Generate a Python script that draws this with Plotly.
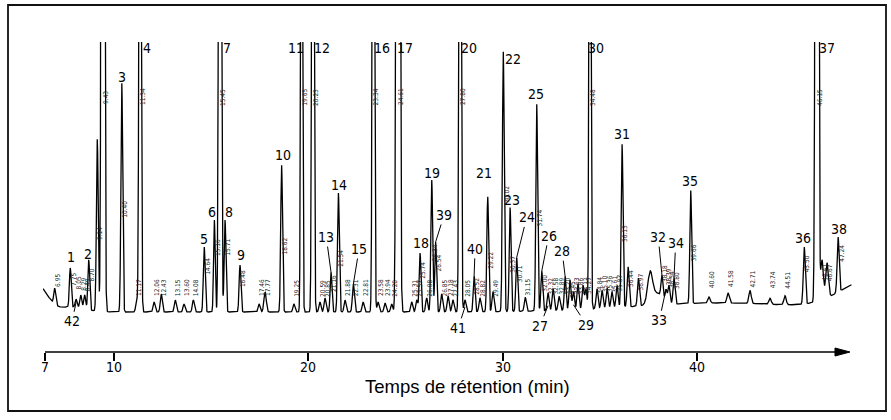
import numpy as np
import plotly.graph_objects as go

# ---------------- data ----------------
# individual peaks: retention time (min), height (signal units), width sigma (min)
peak_times = [6.95, 7.75, 8.05, 8.29, 8.49, 8.70, 9.14, 9.43, 10.40, 11.17,
              11.34, 12.06, 12.43, 13.15, 13.60, 14.08, 14.64, 15.16, 15.45, 15.71,
              16.48, 17.46, 17.77, 18.62, 19.25, 19.65, 20.23, 20.59, 20.85, 21.16,
              21.54, 21.88, 22.31, 22.81, 23.34, 23.58, 23.94, 24.28, 24.61, 25.31,
              25.57, 25.74, 26.08, 26.34, 26.54, 26.85, 27.18, 27.43, 27.80, 28.05,
              28.52, 28.82, 29.22, 29.49, 30.02, 30.37, 30.71, 31.15, 31.74, 32.00,
              32.32, 32.58, 32.89, 33.20, 33.45, 33.63, 33.86, 34.12, 34.27, 34.48,
              34.84, 35.10, 35.36, 35.61, 35.87, 36.13, 36.44, 36.97, 38.18, 38.39,
              38.54, 38.80, 39.66, 40.60, 41.58, 42.71, 43.74, 44.51, 45.50, 46.15,
              46.41, 46.67, 47.24]
peak_heights = [16, 39, 8, 13, 14, 50, 172, 2500, 229, 12,
                900, 10, 18, 12, 8, 12, 65, 92, 1500, 92,
                47, 8, 20, 147, 8, 800, 1200, 10, 14, 40,
                119, 12, 28, 10, 1000, 10, 9, 8, 3000, 10,
                12, 59, 14, 132, 70, 18, 16, 12, 1000, 12,
                36, 14, 115, 20, 260, 104, 54, 14, 207, 40,
                18, 22, 14, 34, 30, 18, 26, 24, 20, 900,
                20, 18, 20, 16, 22, 163, 40, 28, 22, 12,
                18, 26, 113, 6, 10, 13, 6, 9, 57, 2500,
                40, 35, 55]
peak_widths = [0.05, 0.045, 0.05, 0.05, 0.05, 0.045, 0.045, 0.055, 0.045, 0.05,
               0.045, 0.05, 0.05, 0.05, 0.05, 0.05, 0.045, 0.04, 0.05, 0.045,
               0.045, 0.05, 0.06, 0.045, 0.05, 0.04, 0.045, 0.05, 0.05, 0.045,
               0.045, 0.05, 0.05, 0.05, 0.045, 0.05, 0.05, 0.05, 0.06, 0.05,
               0.05, 0.045, 0.05, 0.045, 0.045, 0.05, 0.05, 0.05, 0.045, 0.05,
               0.045, 0.05, 0.045, 0.05, 0.045, 0.045, 0.045, 0.05, 0.045, 0.045,
               0.05, 0.05, 0.05, 0.045, 0.05, 0.05, 0.05, 0.05, 0.05, 0.04,
               0.05, 0.05, 0.05, 0.05, 0.05, 0.045, 0.05, 0.05, 0.05, 0.05,
               0.05, 0.05, 0.045, 0.06, 0.06, 0.06, 0.06, 0.06, 0.05, 0.055,
               0.07, 0.07, 0.05]

# slow baseline components (solvent tail, hump, drift)
drift_times = [6.10, 7.80, 37.57, 37.90, 41.20, 48.90]
drift_heights = [26, 5, 28, 12, 9, 30]
drift_widths = [0.48, 0.70, 0.12, 0.30, 4.5, 1.5]

# numbered compounds and the peak each number designates
compound_labels = [str(i) for i in range(1, 43)]
compound_times = [7.75, 8.70, 10.40, 11.34, 14.64, 15.16, 15.45, 15.71, 16.48, 18.62,
                  19.65, 20.23, 21.16, 21.54, 22.31, 23.34, 24.61, 25.74, 26.34, 27.80,
                  29.22, 30.02, 30.37, 30.71, 31.74, 32.00, 32.32, 33.20, 33.63, 34.48,
                  36.13, 38.18, 38.39, 38.80, 39.66, 45.50, 46.15, 47.24, 26.54, 28.52,
                  28.05, 8.05]

tick_values = [6.45, 10, 20, 30, 40]
tick_labels = ["7", "10", "20", "30", "40"]
x_title = "Temps de rétention (min)"

# ---------------- signal ----------------
def gsum(tt, times, heights, widths):
    tt = np.asarray(tt, dtype=float)
    out = np.zeros_like(tt)
    for t0, h, w in zip(times, heights, widths):
        out += h * np.exp(-0.5 * ((tt - t0) / w) ** 2)
    return out

def signal_at(tt):
    return gsum(tt, peak_times, peak_heights, peak_widths) + gsum(tt, drift_times, drift_heights, drift_widths)

t = np.arange(6.35, 47.93, 0.004)
y = signal_at(t)

# ---------------- layout constants ----------------
W, H = 891, 420
ML, MR, MT, MB = 43, 39, 42, 68
PW, PH = W - ML - MR, H - MT - MB
YMIN, YMAX = -40, 270
XMIN, XMAX = 6.348, 47.955

def pxx(px):
    return (px - ML) / PW

def pxy(py):
    return (H - MB - py) / PH

NUM_FONT = dict(family="Liberation Sans Narrow, DejaVu Sans Condensed, Arial Narrow, sans-serif",
                size=14, color="black")
RT_FONT = dict(family="DejaVu Sans Condensed, Liberation Sans Narrow, sans-serif", size=6.5, color="#222222")

fig = go.Figure()
fig.add_trace(go.Scatter(x=t, y=y, mode="lines", line=dict(color="black", width=1.3),
                         hoverinfo="skip", showlegend=False))

# label placement: mode, dx, dy (pixels)
label_place = {
    "1": ("top", 0.7, 11), "2": ("top", -0.5, 6), "3": ("top", 0, 6), "4": ("clip", 7, 0),
    "5": ("top", 0, 8), "6": ("top", -2.5, 8), "7": ("clip", 7, 0), "8": ("top", 4, 8),
    "9": ("top", 0.5, 10), "10": ("top", 1, 10), "11": ("clip", -6, 0), "12": ("clip", 9.5, 0),
    "13": ("lead", -4.7, -35), "14": ("top", 0.7, 8), "15": ("lead", 5.7, -35),
    "16": ("clip", 8.5, 0), "17": ("clip", 7, 0), "18": ("top", 1, 10), "19": ("top", 0.3, 7),
    "20": ("clip", 9, 0), "21": ("top", -4, 24), "22": ("top", 10, -7), "23": ("top", 2, 8),
    "24": ("lead", 10, -40), "25": ("top", -0.7, 10), "26": ("lead", 7, -35),
    "27": ("low", -8, 20), "28": ("lead", -3, -25), "29": ("low", 13, 20), "30": ("clip", 6.5, 0),
    "31": ("top", 0, 10), "32": ("lead", -3.7, -38), "33": ("lead", -6.7, 31),
    "34": ("lead", 1.7, -35), "35": ("top", -0.7, 10), "36": ("top", -1.3, 9),
    "37": ("clip", 10, 0), "38": ("top", 1, 8), "39": ("lead", 8.5, -27), "40": ("lead", 1, -27),
    "41": ("low", -6.7, 21), "42": ("low", -4, 19),
}

annotations = []
for name, tc in zip(compound_labels, compound_times):
    mode, dx, dy = label_place[name]
    apex = float(signal_at([tc])[0])
    h_peak = peak_heights[peak_times.index(tc)]
    if mode == "top":
        annotations.append(dict(x=tc, y=min(apex, YMAX), text=name, showarrow=False,
                                xshift=dx, yshift=dy, xanchor="center", yanchor="middle", font=NUM_FONT))
    elif mode == "clip":
        annotations.append(dict(x=tc, y=YMAX, text=name, showarrow=False,
                                xshift=dx, yshift=-6, xanchor="center", yanchor="middle", font=NUM_FONT))
    else:
        tip = apex if mode == "lead" else apex - h_peak + 5
        annotations.append(dict(x=tc, y=tip, text=name, showarrow=True, arrowhead=0,
                                arrowwidth=1, arrowcolor="black", ax=dx, ay=dy, font=NUM_FONT))

# integrator retention-time prints along the peaks
for tp, hp in zip(peak_times, peak_heights):
    base = float(signal_at([tp])[0]) - hp
    if hp < 30:
        yc = base + 24
    elif hp < 100:
        yc = base + hp * 0.7
    elif hp <= 270:
        yc = base + hp * 0.45
    else:
        yc = 215
    annotations.append(dict(x=tp, y=yc, text=f"{tp:.2f}", textangle=-90, showarrow=False,
                            xshift=3, font=RT_FONT, xanchor="center", yanchor="middle"))

# tick labels of the time axis
for tv, tl in zip(tick_values, tick_labels):
    annotations.append(dict(x=tv, y=pxy(367), xref="x", yref="paper", text=tl, showarrow=False,
                            xanchor="center", yanchor="middle", font=NUM_FONT))

# axis title
annotations.append(dict(x=pxx(467), y=pxy(386), xref="paper", yref="paper", text=x_title,
                        showarrow=False, xanchor="center", yanchor="middle",
                        font=dict(family="Liberation Sans, Arial, sans-serif", size=18.5, color="black")))

shapes = [
    # outer frame
    dict(type="rect", xref="paper", yref="paper", x0=pxx(8), x1=pxx(886), y0=pxy(411), y1=pxy(5),
         line=dict(color="#111111", width=1.8)),
    # time axis with arrow
    dict(type="line", xref="x", yref="paper", x0=tick_values[0], x1=47.08, y0=0, y1=0,
         line=dict(color="black", width=1.6)),
    dict(type="path", xref="x", yref="paper",
         path=f"M 47.08,{4/PH} L 47.85,0 L 47.08,{-4/PH} Z",
         fillcolor="black", line=dict(color="black", width=1)),
]

fig.update_layout(
    width=W, height=H,
    margin=dict(l=ML, r=MR, t=MT, b=MB),
    paper_bgcolor="white", plot_bgcolor="white",
    showlegend=False,
    annotations=annotations,
    shapes=shapes,
    xaxis=dict(range=[XMIN, XMAX], showgrid=False, zeroline=False, showline=False,
               tickmode="array", tickvals=tick_values, ticktext=tick_labels,
               showticklabels=False,
               ticks="outside", ticklen=8, tickwidth=1.5, tickcolor="black",
               fixedrange=True),
    yaxis=dict(range=[YMIN, YMAX], visible=False, fixedrange=True),
)

fig.write_html("out.html", config={"displayModeBar": False},
               post_script="document.body.style.margin='0';document.body.style.overflow='hidden';")
